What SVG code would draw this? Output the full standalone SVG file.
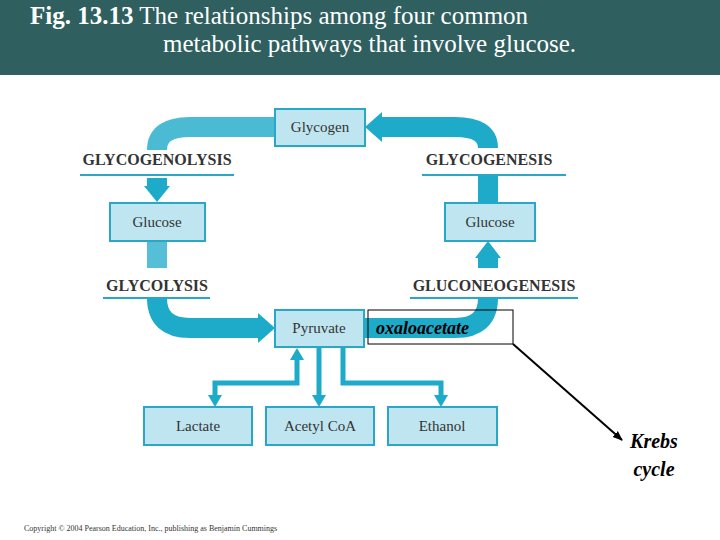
<svg xmlns="http://www.w3.org/2000/svg" width="720" height="540" viewBox="0 0 720 540">
<defs>
<style>
.box{fill:#bfe5f0;stroke:#29a7c7;stroke-width:2}
.bt{font-family:"Liberation Serif",serif;font-size:15px;fill:#333;text-anchor:middle}
.lab{font-family:"Liberation Serif",serif;font-size:16px;font-weight:bold;fill:#333;text-anchor:middle}
.ul{stroke:#29a7c7;stroke-width:2}
.thick{fill:none;stroke:#1eaac9;stroke-width:20}
.thin{fill:none;stroke:#1eaac9;stroke-width:5}
.ah{fill:#1eaac9}
</style>
<marker id="blk" markerWidth="10" markerHeight="10" refX="9" refY="5" orient="auto" markerUnits="userSpaceOnUse"><path d="M0,1 L10,5 L0,9 Z" fill="#000"/></marker>
</defs>
<rect width="720" height="540" fill="#fff"/>
<rect width="720" height="75" fill="#2f5f5f"/>
<text x="30" y="24" font-family="Liberation Serif,serif" font-size="25" fill="#fff"><tspan font-weight="bold">Fig. 13.13</tspan> The relationships among four common</text>
<text x="163" y="52" font-family="Liberation Serif,serif" font-size="25" fill="#fff">metabolic pathways that involve glucose.</text>
<g id="connectors">
<path class="thick" d="M275,127 H190 Q157,127 157,150" opacity="0.8"/>
<path class="thick" d="M157,178 V186"/><path class="ah" d="M144,186 H170 L157,202 Z"/>
<path class="thick" d="M157,241 V268" opacity="0.75"/>
<path class="thick" d="M157,298 Q157,328 190,328 H258"/><path class="ah" d="M258,313 L275,328 L258,343 Z"/>
<path class="thick" d="M364,328 H455 Q488,328 488,298"/>
<path class="thick" d="M488,268 V258"/><path class="ah" d="M475,258 H501 L488,241 Z"/>
<path class="thick" d="M488,203 V176"/>
<path class="thick" d="M488,148 Q488,127 455,127 H382"/><path class="ah" d="M382,112 L365,127 L382,142 Z"/>
<path class="thin" d="M297,360 V383 H215 V397"/><path class="ah" d="M290,360 H304 L297,348 Z"/><path class="ah" d="M208,395 H222 L215,407 Z"/>
<path class="thin" d="M319,347 V397"/><path class="ah" d="M312,395 H326 L319,407 Z"/>
<path class="thin" d="M343,347 V383 H441 V397"/><path class="ah" d="M434,395 H448 L441,407 Z"/>
<line x1="513" y1="344" x2="622" y2="440" stroke="#000" stroke-width="2" marker-end="url(#blk)"/>
</g>
<g id="labels">
<text class="lab" x="157" y="165">GLYCOGENOLYSIS</text><line class="ul" x1="80" y1="175" x2="234" y2="175"/>
<text class="lab" x="489" y="165">GLYCOGENESIS</text><line class="ul" x1="422" y1="175" x2="566" y2="175"/>
<text class="lab" x="157" y="291">GLYCOLYSIS</text><line class="ul" x1="103" y1="298" x2="210" y2="298"/>
<text class="lab" x="494" y="291">GLUCONEOGENESIS</text><line class="ul" x1="410" y1="298" x2="578" y2="298"/>
</g>
<g id="glycogen"><rect class="box" x="275" y="109" width="90" height="37"/><text class="bt" x="320" y="132">Glycogen</text></g>
<g id="glucose-left"><rect class="box" x="110" y="203" width="95" height="38"/><text class="bt" x="157" y="227">Glucose</text></g>
<g id="glucose-right"><rect class="box" x="445" y="203" width="90" height="38"/><text class="bt" x="490" y="227">Glucose</text></g>
<g id="pyruvate"><rect class="box" x="275" y="310" width="89" height="37"/><text class="bt" x="319" y="333">Pyruvate</text></g>
<g id="oxaloacetate"><rect x="368" y="310" width="145" height="34" fill="none" stroke="#000" stroke-width="1"/><text x="376" y="334" font-family="Liberation Serif,serif" font-size="18" font-style="italic" font-weight="bold" fill="#000">oxaloacetate</text></g>
<g id="lactate"><rect class="box" x="144" y="407" width="108" height="38"/><text class="bt" x="198" y="431">Lactate</text></g>
<g id="acetylcoa"><rect class="box" x="266" y="407" width="108" height="38"/><text class="bt" x="320" y="431">Acetyl CoA</text></g>
<g id="ethanol"><rect class="box" x="388" y="407" width="109" height="38"/><text class="bt" x="442" y="431">Ethanol</text></g>
<g id="krebs"><text font-family="Liberation Serif,serif" font-size="20" font-style="italic" font-weight="bold" fill="#000" text-anchor="middle"><tspan x="654" y="448">Krebs</tspan><tspan x="654" y="476">cycle</tspan></text></g>
<text x="24" y="531" font-family="Liberation Serif,serif" font-size="8" fill="#333">Copyright © 2004 Pearson Education, Inc., publishing as Benjamin Cummings</text>
</svg>
